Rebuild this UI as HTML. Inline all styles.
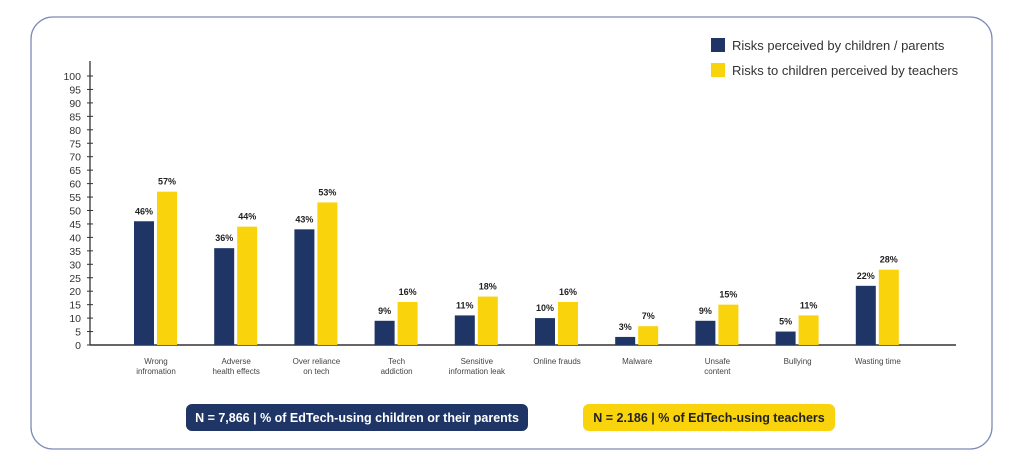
<!DOCTYPE html>
<html><head><meta charset="utf-8"><style>
body{margin:0;background:#fff;width:1024px;height:466px;overflow:hidden;font-family:"Liberation Sans",sans-serif}
</style></head><body>
<svg width="1024" height="466" xmlns="http://www.w3.org/2000/svg">
<rect x="31" y="17" width="961" height="432" rx="22" fill="#fff" stroke="#7d8bb6" stroke-width="1.3"/>
<g id="axes"></g>
<g id="bars"></g>
<g>
<rect x="711" y="38" width="14" height="14" fill="#1f3566"/>
<text x="732" y="50" font-size="13" fill="#333">Risks perceived by children / parents</text>
<rect x="711" y="63" width="14" height="14" fill="#f9d30b"/>
<text x="732" y="75" font-size="13" fill="#333">Risks to children perceived by teachers</text>
</g>
<g>
<rect x="186" y="404" width="342" height="27" rx="6" fill="#1f3566"/>
<text x="357" y="422" font-size="12.5" font-weight="bold" fill="#fff" text-anchor="middle">N = 7,866 | % of EdTech-using children or their parents</text>
</g>
<g>
<rect x="583" y="404" width="252" height="27" rx="6" fill="#f9d30b"/>
<text x="709" y="422" font-size="12.5" font-weight="bold" fill="#222" text-anchor="middle">N = 2.186 | % of EdTech-using teachers</text>
</g>
</svg>
<script>
const categories=[["Wrong","infromation"],["Adverse","health effects"],["Over reliance","on tech"],["Tech","addiction"],["Sensitive","information leak"],["Online frauds"],["Malware"],["Unsafe","content"],["Bullying"],["Wasting time"]];
const childrenValues=[46,36,43,9,11,10,3,9,5,22];
const teacherValues=[57,44,53,16,18,16,7,15,11,28];
const yTicks=[0,5,10,15,20,25,30,35,40,45,50,55,60,65,70,75,80,85,90,95,100];
const NS="http://www.w3.org/2000/svg";
const y0=345,pxPer=2.69,x0=156,step=80.2,bw=20;
const y=v=>y0-v*pxPer;
const xc=i=>x0+i*step;
function mk(t,a,p,txt){const e=document.createElementNS(NS,t);for(const k in a)e.setAttribute(k,a[k]);if(txt!==undefined)e.textContent=txt;p.appendChild(e);return e;}
const ax=document.getElementById('axes'),bg=document.getElementById('bars');
let l=mk('line',{x1:90,y1:61,x2:90,y2:y0,stroke:'#333','stroke-width':1.3},ax);


l=mk('line',{x1:90,y1:y0,x2:956,y2:y0,stroke:'#333','stroke-width':1.5},ax);


yTicks.forEach(v=>{
 const t=mk('line',{x1:87,y1:y(v),x2:93,y2:y(v),stroke:'#333','stroke-width':1},ax);
 
 
 const tx=mk('text',{x:81,y:y(v)+4,'font-size':10.5,fill:'#333','text-anchor':'end'},ax,String(v));
 
 
});
categories.forEach((c,i)=>{
 const cx=xc(i);
 const b1=mk('rect',{x:cx-bw-2,y:y(childrenValues[i]),width:bw,height:childrenValues[i]*pxPer,fill:'#1f3566'},bg);
 
 
 const b2=mk('rect',{x:cx+1,y:y(teacherValues[i]),width:bw,height:teacherValues[i]*pxPer,fill:'#f9d30b'},bg);
 
 
 const t1=mk('text',{x:cx-bw/2-2,y:y(childrenValues[i])-7,'font-size':9,'font-weight':'bold',fill:'#222','text-anchor':'middle'},bg,childrenValues[i]+'%');
 
 
 const t2=mk('text',{x:cx+bw/2+1,y:y(teacherValues[i])-7,'font-size':9,'font-weight':'bold',fill:'#222','text-anchor':'middle'},bg,teacherValues[i]+'%');
 
 
 c.forEach((line,j)=>{
  const ct=mk('text',{x:cx,y:364+j*10,'font-size':8,fill:'#444','text-anchor':'middle'},bg,line);
  
  
 });
});
</script>
</body></html>
